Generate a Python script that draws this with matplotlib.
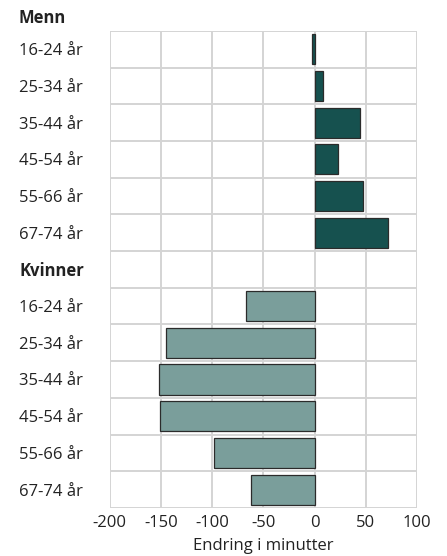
import matplotlib.pyplot as plt

plt.rcParams['font.family'] = ['Open Sans', 'DejaVu Sans']
plt.rcParams['axes.unicode_minus'] = False

# Data
age_groups = ['16-24 år', '25-34 år', '35-44 år', '45-54 år', '55-66 år', '67-74 år']
menn = [-2, 8.5, 44, 22.5, 47, 72]
kvinner = [-67, -145, -152, -151, -98, -62]

labels = age_groups + ['Kvinner'] + age_groups
menn_pos = list(range(len(age_groups)))
kvinner_pos = [len(age_groups) + 1 + i for i in range(len(age_groups))]
n_rows = len(labels)

fig = plt.figure(figsize=(4.47, 5.56), dpi=100)
ax = fig.add_axes([0.245, 0.0865, 0.688, 0.858])

ax.barh(menn_pos, menn, height=0.82, color='#16514f', edgecolor='#2b2b2b',
        linewidth=0.9, zorder=3)
ax.barh(kvinner_pos, kvinner, height=0.82, color='#7a9e9b', edgecolor='#2b2b2b',
        linewidth=0.9, zorder=3)

ax.set_xlim(-200, 100)
ax.set_ylim(n_rows - 0.5, -0.5)
ax.set_xticks([-200, -150, -100, -50, 0, 50, 100])
ax.set_yticks(range(n_rows))
ax.set_yticklabels(labels)
ax.set_yticks([i + 0.5 for i in range(-1, n_rows)], minor=True)

for lab in ax.get_yticklabels():
    lab.set_ha('left')
    if lab.get_text() == 'Kvinner':
        lab.set_fontweight('bold')

ax.tick_params(axis='y', which='both', length=0, pad=65, labelsize=12, labelcolor='#222222')
ax.tick_params(axis='x', length=0, pad=5, labelsize=12, labelcolor='#222222')

ax.grid(True, axis='x', which='major', color='#d4d4d4', linewidth=1.4, zorder=0)
ax.grid(True, axis='y', which='minor', color='#d4d4d4', linewidth=1.4, zorder=0)
ax.grid(False, axis='y', which='major')
for s in ax.spines.values():
    s.set_visible(False)

ax.set_xlabel('Endring i minutter', fontsize=12, color='#222222', labelpad=5)

fig.text(19 / 447, 1 - 18 / 556, 'Menn', fontsize=12, fontweight='bold',
         color='#222222', ha='left', va='center')

fig.savefig('out.png', dpi=100)
